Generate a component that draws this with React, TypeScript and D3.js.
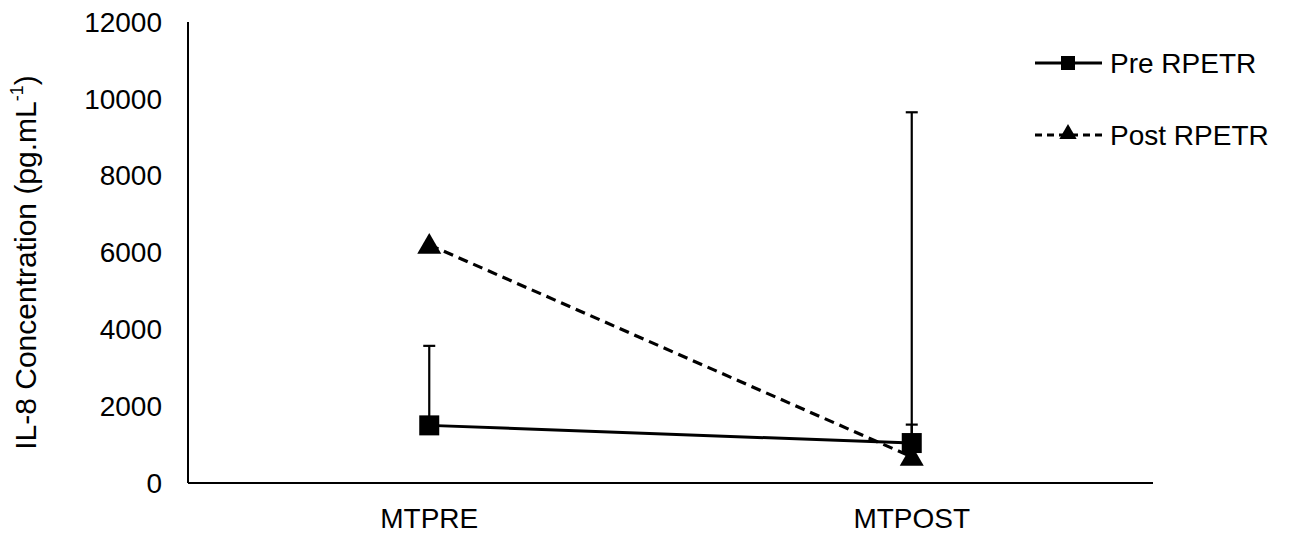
import React from "react";
import * as d3 from "d3";

const categories = ["MTPRE", "MTPOST"];
const preValues = [1500, 1040];
const preErrUp = [2070, 480];
const postValues = [6200, 680];
const postErrUp = [0, 8970];
const yTicks = [0, 2000, 4000, 6000, 8000, 10000, 12000];
const seriesNames = ["Pre RPETR", "Post RPETR"];

const W = 1295;
const H = 533;
const FONT = "'Liberation Sans', Arial, sans-serif";
const FS = 28;

export default function App() {
  const x = d3.scalePoint<string>().domain(categories).range([188, 1153]).padding(0.5);
  const y = d3.scaleLinear().domain([0, 12000]).range([483, 22]);

  const line = d3
    .line<number>()
    .x((d, i) => x(categories[i]) as number)
    .y((d) => y(d));

  const tri = d3.symbol().type(d3.symbolTriangle);

  // upward-only error bars with a small cap
  const errBars = (vals: number[], errs: number[], key: string) =>
    vals.map((v, i) => {
      if (!errs[i]) return null;
      const cx = x(categories[i]) as number;
      const top = y(v + errs[i]);
      return (
        <g key={key + i} stroke="#000" strokeWidth={2.2}>
          <line x1={cx} x2={cx} y1={y(v)} y2={top} />
          <line x1={cx - 6} x2={cx + 6} y1={top} y2={top} />
        </g>
      );
    });

  return (
    <svg
      width={W}
      height={H}
      style={{ position: "absolute", left: 0, top: 0, background: "#fff" }}
      fontFamily={FONT}
    >
      <line x1={188} x2={188} y1={y(12000)} y2={y(0)} stroke="#000" strokeWidth={2} />
      <line x1={188} x2={1153} y1={y(0)} y2={y(0)} stroke="#000" strokeWidth={2} />
      {yTicks.map((t) => (
        <text key={t} x={162} y={y(t)} dy="0.35em" textAnchor="end" fontSize={FS}>
          {t}
        </text>
      ))}
      {categories.map((c) => (
        <text key={c} x={x(c)} y={518} dy="0.35em" textAnchor="middle" fontSize={FS}>
          {c}
        </text>
      ))}
      <text
        transform={`translate(36,${(y(0) + y(12000)) / 2 + 10}) rotate(-90)`}
        textAnchor="middle"
        fontSize={30}
      >
        IL-8 Concentration (pg.mL
        <tspan fontSize={18} dy={-13}>-1</tspan>
        <tspan dy={13}>)</tspan>
      </text>

      {errBars(postValues, postErrUp, "post")}
      {errBars(preValues, preErrUp, "pre")}

      <path d={line(postValues) || ""} fill="none" stroke="#000" strokeWidth={3.2} strokeDasharray="10,6" />
      {postValues.map((v, i) => (
        <path
          key={"pt" + i}
          d={tri.size(250)() || ""}
          transform={`translate(${x(categories[i])},${y(v) + 2})`}
          fill="#000"
        />
      ))}

      <path d={line(preValues) || ""} fill="none" stroke="#000" strokeWidth={3} />
      {preValues.map((v, i) => (
        <rect
          key={"ps" + i}
          x={(x(categories[i]) as number) - 10}
          y={y(v) - 10}
          width={20}
          height={20}
          fill="#000"
        />
      ))}

      {/* legend */}
      <g>
        <line x1={1035} x2={1102} y1={63} y2={63} stroke="#000" strokeWidth={3} />
        <rect x={1061} y={56} width={14} height={14} fill="#000" />
        <text x={1110} y={63} dy="0.35em" fontSize={FS}>{seriesNames[0]}</text>
        <line x1={1035} x2={1102} y1={135} y2={135} stroke="#000" strokeWidth={3.2} strokeDasharray="7,5" />
        <path d={tri.size(130)() || ""} transform="translate(1068,134)" fill="#000" />
        <text x={1110} y={135} dy="0.35em" fontSize={FS}>{seriesNames[1]}</text>
      </g>
    </svg>
  );
}
